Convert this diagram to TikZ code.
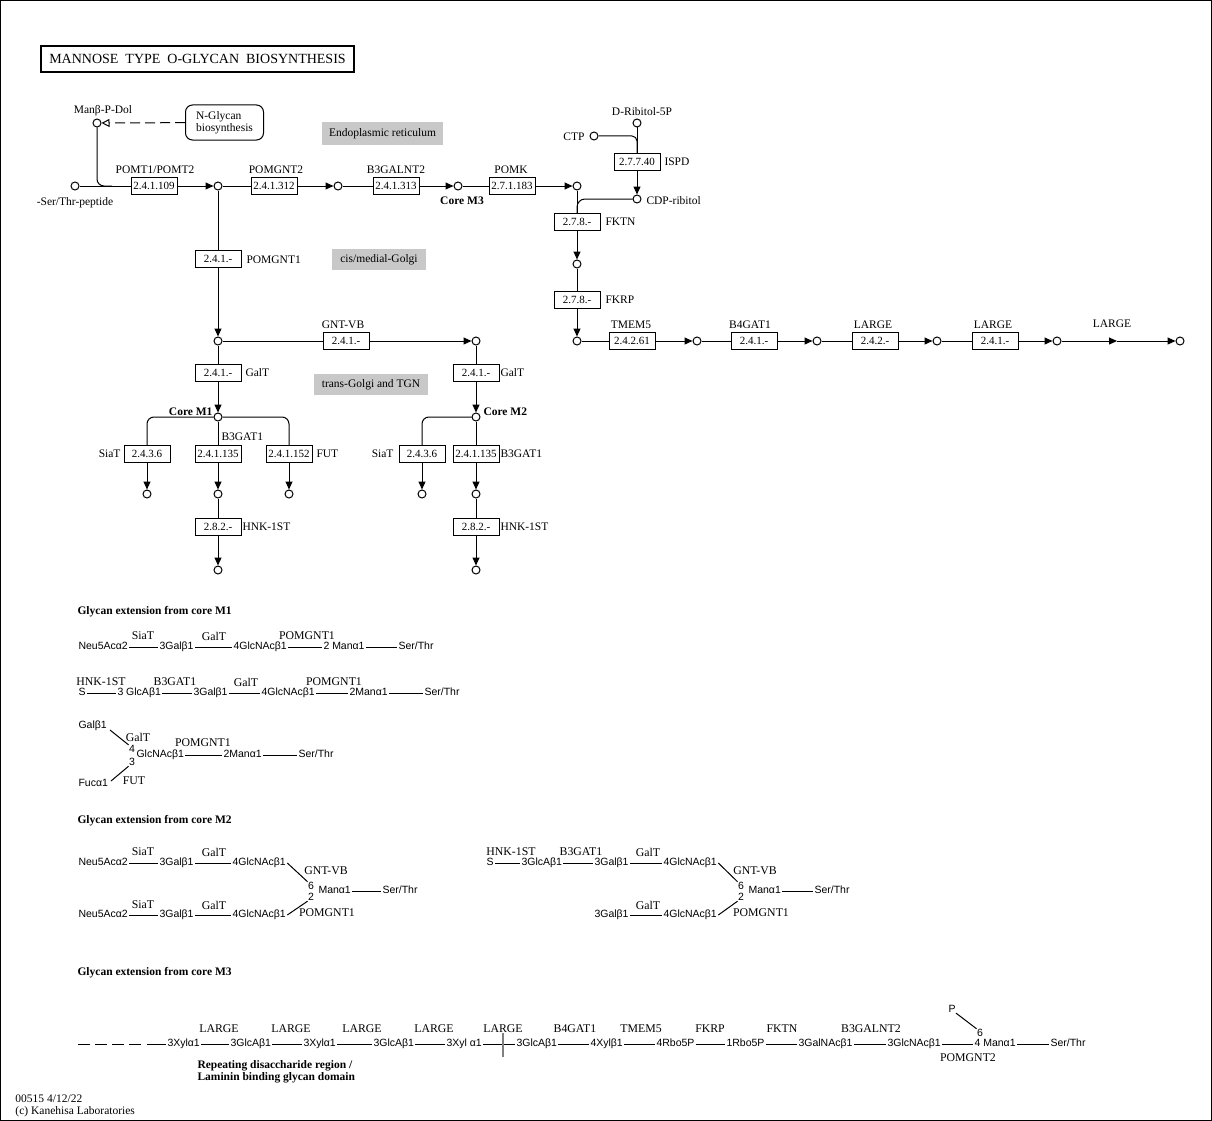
\documentclass[tikz,border=0pt]{standalone}
\usepackage{fontspec}
\setmainfont{Liberation Serif}
\newfontfamily\glyf{Liberation Sans}
\usetikzlibrary{arrows.meta}
\definecolor{compgray}{RGB}{200,200,200}
\newcommand\labfont{\fontsize{11.5}{12}\selectfont}
\newcommand\enzfont{\fontsize{11}{11}\selectfont}
\newcommand\glyfont{\glyf\fontsize{10.5}{11}\selectfont}
\newcommand\glabfont{\fontsize{11.8}{12}\selectfont}
\newcommand\ttlfont{\fontsize{14}{15}\selectfont}
\tikzset{
 cmp/.style={circle,draw,fill=white,minimum size=8pt,inner sep=0pt},
 enz/.style={draw,fill=white,minimum width=46pt,minimum height=17pt,inner sep=0pt,font=\enzfont},
 lab/.style={font=\labfont,inner sep=0pt},
 blab/.style={font=\labfont\bfseries,inner sep=0pt},
 arr/.style={-{Triangle[length=8pt,width=7pt]}},
 oarr/.style={-{Triangle[open,length=8pt,width=8pt]}},
 comp/.style={fill=compgray,font=\labfont,inner sep=0pt},
 gly/.style={font=\glyfont,inner sep=1pt,anchor=west,text height=7.5pt,text depth=2pt},
 dig/.style={font=\glyfont,inner sep=0pt},
 glab/.style={font=\glabfont,inner sep=0pt},
 rc/.style={rounded corners=7pt},
}
\begin{document}
\begin{tikzpicture}[x=1pt,y=-1pt,line width=1pt]
\useasboundingbox (0,0) rectangle (1212,1121);
\draw (0.5,0.5) rectangle (1211.5,1120.5);
% title
\node[draw,line width=2pt,minimum width=313pt,minimum height=26pt,inner sep=0pt,font=\ttlfont] (title) at (197.5,59) {MANNOSE\hspace{7pt}TYPE\hspace{7pt}O-GLYCAN\hspace{7pt}BIOSYNTHESIS};
% compartments
\node[comp,minimum width=121pt,minimum height=23pt] (er) at (382.5,133.5) {Endoplasmic reticulum};
\node[comp,minimum width=94pt,minimum height=21pt] (cmg) at (379,259.5) {cis/medial-Golgi};
\node[comp,minimum width=114pt,minimum height=21pt] (tgn) at (371,384.5) {trans-Golgi and TGN};
% ---------------- top pathway
\node[cmp] (ser) at (75,186) {};
\node[lab] (serl) at (75,203) {-Ser/Thr-peptide};
\node[cmp] (mpd) at (97,123) {};
\node[lab] (mpdl) at (103,111) {Manβ-P-Dol};
\node[draw,rounded corners=7pt,minimum width=78pt,minimum height=35pt,align=left,font=\labfont,inner sep=0pt] (ngly) at (224.5,122.5) {N-Glycan\\biosynthesis};
\draw[oarr,dash pattern=on 10pt off 5pt] (ngly) -- (mpd);
\coordinate (j1) at (112,186);
\draw[rc] (mpd) |- (j1);

\node[enz] (e1) at (154,186) {2.4.1.109};
\node[lab] (e1l) at (155,170) {POMT1/POMT2};
\node[cmp] (c1) at (218,186) {};
\node[enz] (e2) at (274,186) {2.4.1.312};
\node[lab] (e2l) at (276,170) {POMGNT2};
\node[cmp] (c2) at (338,186) {};
\node[enz] (e3) at (396,186) {2.4.1.313};
\node[lab] (e3l) at (396,170) {B3GALNT2};
\node[cmp] (c3) at (458,186) {};
\node[blab] (c3l) at (462,201) {Core M3};
\node[enz] (e4) at (512,186) {2.7.1.183};
\node[lab] (e4l) at (511,170) {POMK};
\node[cmp] (c4) at (577,186) {};
\draw (ser) -- (e1); \draw[arr] (e1) -- (c1);
\draw (c1) -- (e2); \draw[arr] (e2) -- (c2);
\draw (c2) -- (e3); \draw[arr] (e3) -- (c3);
\draw (c3) -- (e4); \draw[arr] (e4) -- (c4);

% ribitol branch
\node[cmp] (rib) at (637,123) {};
\node[lab] (ribl) at (642,112) {D-Ribitol-5P};
\node[cmp] (ctp) at (594,136) {};
\node[lab,anchor=east] (ctpl) at (585,137) {CTP};
\node[enz] (e5) at (637,162) {2.7.7.40};
\node[lab,anchor=west] (e5l) at (664,162) {ISPD};
\node[cmp] (cdp) at (637,199) {};
\node[lab,anchor=west] (cdpl) at (646,201) {CDP-ribitol};
\draw (rib) -- (e5);
\draw[rounded corners=5pt] (ctp) -| (e5.north);
\draw[arr] (e5) -- (cdp);
\node[enz] (e6) at (577,222) {2.7.8.-};
\node[lab,anchor=west] (e6l) at (605,222) {FKTN};
\draw (c4) -- (e6);
\draw[rounded corners=8pt] (cdp) -| (e6.north);
\node[cmp] (c5) at (577,264) {};
\draw[arr] (e6) -- (c5);
\node[enz] (e7) at (577,300) {2.7.8.-};
\node[lab,anchor=west] (e7l) at (605,300) {FKRP};
\draw (c5) -- (e7);
\node[cmp] (c6) at (577,341) {};
\draw[arr] (e7) -- (c6);
% LARGE row
\node[enz] (e8) at (632,341) {2.4.2.61};
\node[lab] (e8l) at (631,325) {TMEM5};
\node[cmp] (c7) at (697,341) {};
\node[enz] (e9) at (754,341) {2.4.1.-};
\node[lab] (e9l) at (750,325) {B4GAT1};
\node[cmp] (c8) at (817,341) {};
\node[enz] (e10) at (875,341) {2.4.2.-};
\node[lab] (e10l) at (873,325) {LARGE};
\node[cmp] (c9) at (937,341) {};
\node[enz] (e11) at (995,341) {2.4.1.-};
\node[lab] (e11l) at (993,325) {LARGE};
\node[cmp] (c10) at (1057,341) {};
\coordinate (mid) at (1117,341);
\node[lab] (midl) at (1112,324) {LARGE};
\node[cmp] (c11) at (1180,341) {};
\draw (c6) -- (e8); \draw[arr] (e8) -- (c7);
\draw (c7) -- (e9); \draw[arr] (e9) -- (c8);
\draw (c8) -- (e10); \draw[arr] (e10) -- (c9);
\draw (c9) -- (e11); \draw[arr] (e11) -- (c10);
\draw[arr] (c10) -- (mid); \draw[arr] (mid) -- (c11);

% POMGNT1 down
\node[enz] (e12) at (218,259) {2.4.1.-};
\node[lab,anchor=west] (e12l) at (246,260) {POMGNT1};
\node[cmp] (c12) at (218,341) {};
\draw (c1) -- (e12); \draw[arr] (e12) -- (c12);
\node[enz] (e13) at (346,341) {2.4.1.-};
\node[lab] (e13l) at (343,325) {GNT-VB};
\node[cmp] (c13) at (476,341) {};
\draw (c12) -- (e13); \draw[arr] (e13) -- (c13);
% core M1
\node[enz] (e14) at (218,373) {2.4.1.-};
\node[lab,anchor=west] (e14l) at (245,373) {GalT};
\node[cmp] (cm1) at (218,417) {};
\node[blab,anchor=east] (cm1l) at (213,412) {Core M1};
\draw (c12) -- (e14); \draw[arr] (e14) -- (cm1);
\node[enz] (e15) at (147,454) {2.4.3.6};
\node[lab,anchor=east] (e15l) at (121,454) {SiaT};
\node[enz] (e16) at (218,454) {2.4.1.135};
\node[lab,anchor=west] (e16l) at (221,437) {B3GAT1};
\node[enz] (e17) at (289,454) {2.4.1.152};
\node[lab,anchor=west] (e17l) at (316,454) {FUT};
\draw[rc] (cm1) -| (e15.north);
\draw (cm1) -- (e16);
\draw[rc] (cm1) -| (e17.north);
\node[cmp] (c14) at (147,494) {};
\node[cmp] (c15) at (218,494) {};
\node[cmp] (c16) at (289,494) {};
\draw[arr] (e15) -- (c14); \draw[arr] (e16) -- (c15); \draw[arr] (e17) -- (c16);
\node[enz] (e18) at (218,527) {2.8.2.-};
\node[lab,anchor=west] (e18l) at (242,527) {HNK-1ST};
\node[cmp] (c17) at (218,570) {};
\draw (c15) -- (e18); \draw[arr] (e18) -- (c17);
% core M2
\node[enz] (e19) at (476,373) {2.4.1.-};
\node[lab,anchor=west] (e19l) at (500,373) {GalT};
\node[cmp] (cm2) at (476,417) {};
\node[blab,anchor=west] (cm2l) at (483,412) {Core M2};
\draw (c13) -- (e19); \draw[arr] (e19) -- (cm2);
\node[enz] (e20) at (422,454) {2.4.3.6};
\node[lab,anchor=east] (e20l) at (394,454) {SiaT};
\node[enz] (e21) at (476,454) {2.4.1.135};
\node[lab,anchor=west] (e21l) at (500,454) {B3GAT1};
\draw[rc] (cm2) -| (e20.north);
\draw (cm2) -- (e21);
\node[cmp] (c18) at (422,494) {};
\node[cmp] (c19) at (476,494) {};
\draw[arr] (e20) -- (c18); \draw[arr] (e21) -- (c19);
\node[enz] (e22) at (476,527) {2.8.2.-};
\node[lab,anchor=west] (e22l) at (500,527) {HNK-1ST};
\node[cmp] (c20) at (476,570) {};
\draw (c19) -- (e22); \draw[arr] (e22) -- (c20);

% ---------------- glycan extension M1
\node[blab,anchor=west] (hm1) at (77,612) {Glycan extension from core M1};
\node[gly] (a1) at (77,647) {Neu5Acα2};
\node[gly] (a2) at (158,647) {3Galβ1};
\node[gly] (a3) at (232,647) {4GlcNAcβ1};
\node[gly] (a4) at (322,647) {2 Manα1};
\node[gly] (a5) at (397,647) {Ser/Thr};
\draw (a1) -- (a2); \draw (a2) -- (a3); \draw (a3) -- (a4); \draw (a4) -- (a5);
\node[glab] (a1l) at (143,636) {SiaT};
\node[glab] (a2l) at (214,636) {GalT};
\node[glab] (a3l) at (307,636) {POMGNT1};

\node[gly] (b1) at (77,693) {S};
\node[gly] (b2) at (116,693) {3 GlcAβ1};
\node[gly] (b3) at (192,693) {3Galβ1};
\node[gly] (b4) at (260,693) {4GlcNAcβ1};
\node[gly] (b5) at (348,693) {2Manα1};
\node[gly] (b6) at (423,693) {Ser/Thr};
\draw (b1) -- (b2); \draw (b2) -- (b3); \draw (b3) -- (b4); \draw (b4) -- (b5); \draw (b5) -- (b6);
\node[glab] (b1l) at (101,682) {HNK-1ST};
\node[glab] (b2l) at (175,682) {B3GAT1};
\node[glab] (b3l) at (246,682) {GalT};
\node[glab] (b4l) at (334,682) {POMGNT1};

\node[gly] (k1) at (77,726) {Galβ1};
\node[dig] (k4) at (132,749) {4};
\node[gly] (k2) at (135,755) {GlcNAcβ1};
\node[dig] (k3) at (132,762) {3};
\node[gly] (k5) at (77,784) {Fucα1};
\node[gly] (k6) at (222,755) {2Manα1};
\node[gly] (k7) at (297,755) {Ser/Thr};
\coordinate (kk1) at (110,730);
\coordinate (kk2) at (111,781);
\draw (kk1) -- (k4.north west);
\draw (kk2) -- (k3.south west);
\draw (k2) -- (k6); \draw (k6) -- (k7);
\node[glab] (k1l) at (138,737) {GalT};
\node[glab] (k5l) at (134,781) {FUT};
\node[glab] (k2l) at (203,743) {POMGNT1};

% ---------------- glycan extension M2
\node[blab,anchor=west] (hm2) at (77,821) {Glycan extension from core M2};
\node[gly] (p1) at (77,863) {Neu5Acα2};
\node[gly] (p2) at (158,863) {3Galβ1};
\node[gly] (p3) at (231,863) {4GlcNAcβ1};
\node[gly] (q1) at (77,915) {Neu5Acα2};
\node[gly] (q2) at (158,915) {3Galβ1};
\node[gly] (q3) at (231,915) {4GlcNAcβ1};
\draw (p1) -- (p2); \draw (p2) -- (p3);
\draw (q1) -- (q2); \draw (q2) -- (q3);
\node[glab] (p1l) at (143,852) {SiaT};
\node[glab] (p2l) at (214,852) {GalT};
\node[glab] (q1l) at (143,905) {SiaT};
\node[glab] (q2l) at (214,905) {GalT};
\node[dig] (p6) at (311,886) {6};
\node[dig] (q6) at (311,897) {2};
\node[gly] (pm) at (317,891) {Manα1};
\node[gly] (ps) at (381,891) {Ser/Thr};
\draw (pm) -- (ps);
\draw (p3.east) -- (p6.north west);
\draw (q3.east) -- (q6.south west);
\node[glab] (p3l) at (326,871) {GNT-VB};
\node[glab] (q3l) at (327,913) {POMGNT1};

\node[gly] (r1) at (485,863) {S};
\node[gly] (r2) at (520,863) {3GlcAβ1};
\node[gly] (r3) at (593,863) {3Galβ1};
\node[gly] (r4) at (662,863) {4GlcNAcβ1};
\node[gly] (s3) at (593,915) {3Galβ1};
\node[gly] (s4) at (662,915) {4GlcNAcβ1};
\draw (r1) -- (r2); \draw (r2) -- (r3); \draw (r3) -- (r4); \draw (s3) -- (s4);
\node[glab] (r1l) at (511,852) {HNK-1ST};
\node[glab] (r2l) at (581,852) {B3GAT1};
\node[glab] (r3l) at (648,852) {GalT};
\node[glab] (s3l) at (648,905) {GalT};
\node[dig] (r6) at (741,886) {6};
\node[dig] (s6) at (741,897) {2};
\node[gly] (rm) at (747,891) {Manα1};
\node[gly] (rs) at (813,891) {Ser/Thr};
\draw (rm) -- (rs);
\draw (r4.east) -- (r6.north west);
\draw (s4.east) -- (s6.south west);
\node[glab] (r4l) at (755,871) {GNT-VB};
\node[glab] (s4l) at (761,913) {POMGNT1};

% ---------------- glycan extension M3
\node[blab,anchor=west] (hm3) at (77,973) {Glycan extension from core M3};
\coordinate (d0) at (78,1044);
\coordinate (d1) at (141,1044);
\coordinate (d2) at (147,1044);
\draw[dash pattern=on 12pt off 5pt] (d0) -- (d1);
\node[gly] (m1) at (166,1044) {3Xylα1};
\node[gly] (m2) at (229,1044) {3GlcAβ1};
\node[gly] (m3) at (302,1044) {3Xylα1};
\node[gly] (m4) at (372,1044) {3GlcAβ1};
\node[gly] (m5) at (445,1044) {3Xyl α1};
\node[gly] (m6) at (515,1044) {3GlcAβ1};
\node[gly] (m7) at (589,1044) {4Xylβ1};
\node[gly] (m8) at (655,1044) {4Rbo5P};
\node[gly] (m9) at (725,1044) {1Rbo5P};
\node[gly] (m10) at (797,1044) {3GalNAcβ1};
\node[gly] (m11) at (886,1044) {3GlcNAcβ1};
\node[gly] (m12) at (973,1044) {4 Manα1};
\node[gly] (m13) at (1049,1044) {Ser/Thr};
\draw (d2) -- (m1);
\draw (m1) -- (m2); \draw (m2) -- (m3); \draw (m3) -- (m4); \draw (m4) -- (m5);
\draw (m5) -- (m6); \draw (m6) -- (m7); \draw (m7) -- (m8); \draw (m8) -- (m9);
\draw (m9) -- (m10); \draw (m10) -- (m11); \draw (m11) -- (m12); \draw (m12) -- (m13);
\coordinate (t0) at (503,1033);
\coordinate (t1) at (503,1057);
\draw[gray,line width=1.5pt] (t0) -- (t1);
\node[glab] (m1l) at (219,1029) {LARGE};
\node[glab] (m2l) at (291,1029) {LARGE};
\node[glab] (m3l) at (362,1029) {LARGE};
\node[glab] (m4l) at (434,1029) {LARGE};
\node[glab] (m5l) at (503,1029) {LARGE};
\node[glab] (m6l) at (575,1029) {B4GAT1};
\node[glab] (m7l) at (641,1029) {TMEM5};
\node[glab] (m8l) at (710,1029) {FKRP};
\node[glab] (m9l) at (782,1029) {FKTN};
\node[glab] (m10l) at (871,1029) {B3GALNT2};
\node[glab] (m11l) at (968,1058) {POMGNT2};
\node[dig] (pp) at (952,1009) {P};
\node[dig] (p66) at (980,1033) {6};
\draw (pp.south east) -- (p66.north west);
\node[font=\labfont\bfseries,inner sep=0pt,anchor=north west,align=left] (rep) at (197,1060) {Repeating disaccharide region /\\Laminin binding glycan domain};

% footer
\node[font=\labfont,inner sep=0pt,anchor=north west,align=left] (foot) at (15,1094) {00515 4/12/22\\(c) Kanehisa Laboratories};
\end{tikzpicture}
\end{document}
